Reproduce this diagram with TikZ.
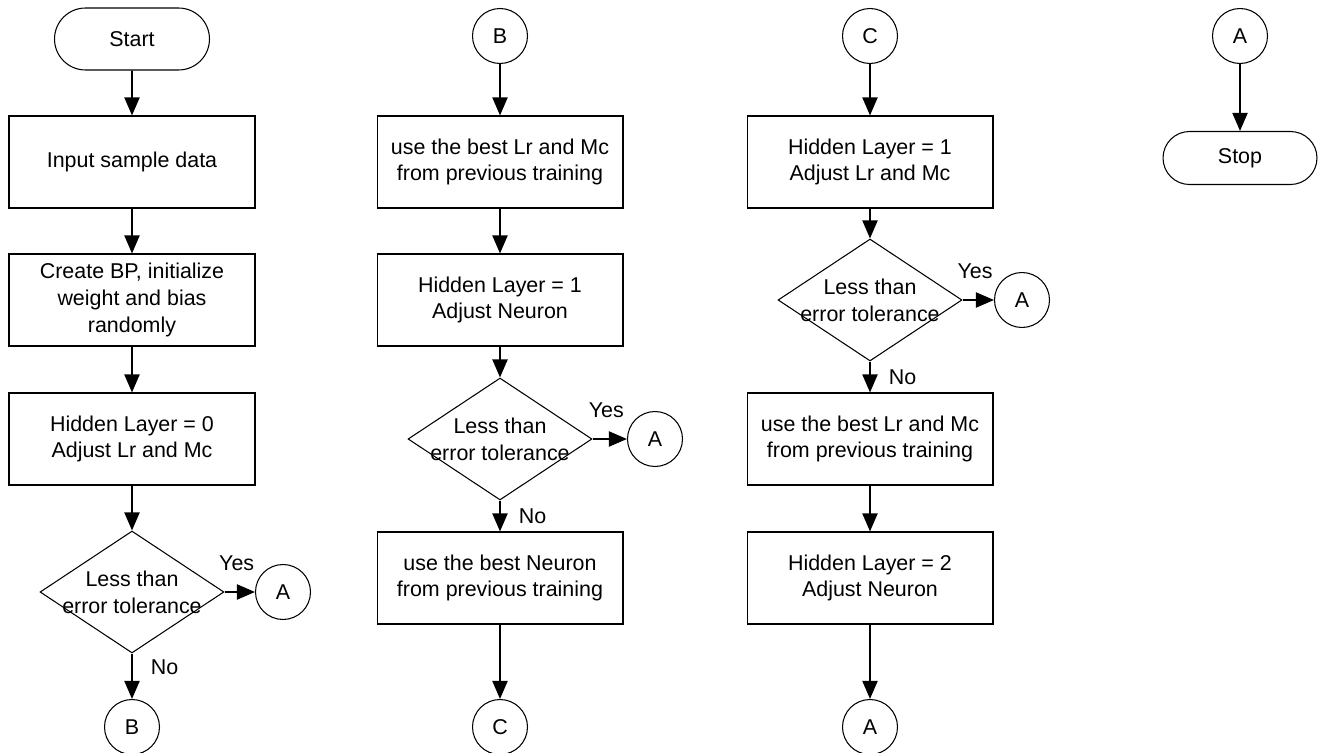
\documentclass[tikz,border=0pt]{standalone}
\usepackage{fontspec}
\setmainfont{Liberation Sans}
\usetikzlibrary{shapes.geometric,shapes.misc,arrows.meta,positioning}
\newcommand\chartfont{\fontsize{12.2}{15.3}\selectfont}
\tikzset{
  terminal/.style={draw,rounded rectangle,minimum width=3.1cm,minimum height=1.24cm,inner sep=0pt,line width=0.6pt},
  process/.style={draw,rectangle,minimum width=4.92cm,minimum height=1.84cm,align=center,inner sep=0pt,line width=0.6pt},
  decision/.style={draw,diamond,minimum width=3.68cm,minimum height=2.44cm,inner sep=0pt,line width=0.6pt,
    label={[align=center]center:Less than\\error tolerance}},
  offpage/.style={draw,circle,minimum size=1.1cm,inner sep=0pt,line width=0.6pt},
  flow/.style={-{Triangle[width=0.3cm,length=0.36cm]},line width=1.1pt},
  yeslabel/.style={pos=0.4,above=0.4cm,inner sep=0pt},
  nolabel/.style={right=0.36cm,inner sep=0pt}
}

\begin{document}
\begin{tikzpicture}[x=0.02cm,y=-0.02cm,every node/.style={font=\chartfont}]
\useasboundingbox (0,0) rectangle (1321,753);

\node[terminal] (start) at (132,39) {Start};
\node[process] (input) at (132,162) {Input sample data};
\node[process] (create) at (132,300) {Create BP, initialize\\weight and bias\\randomly};
\node[process] (hlzero) at (132,439) {Hidden Layer = 0\\Adjust Lr and Mc};
\node[decision] (decone) at (132,592) {};
\node[offpage] (aone) at (283,592) {A};
\node[offpage] (bone) at (132,727) {B};

\node[offpage] (btwo) at (500,36) {B};
\node[process] (bestlrone) at (500,162) {use the best Lr and Mc\\from previous training};
\node[process] (hlonen) at (500,300) {Hidden Layer = 1\\Adjust Neuron};
\node[decision] (dectwo) at (500,439) {};
\node[offpage] (atwo) at (655,439) {A};
\node[process] (bestn) at (500,578) {use the best Neuron\\from previous training};
\node[offpage] (cone) at (500,727) {C};

\node[offpage] (ctwo) at (870,36) {C};
\node[process] (hlonelr) at (870,162) {Hidden Layer = 1\\Adjust Lr and Mc};
\node[decision] (decthree) at (870,300) {};
\node[offpage] (athree) at (1022,300) {A};
\node[process] (bestlrtwo) at (870,439) {use the best Lr and Mc\\from previous training};
\node[process] (hltwon) at (870,578) {Hidden Layer = 2\\Adjust Neuron};
\node[offpage] (afour) at (870,727) {A};

\node[offpage] (afive) at (1240,36) {A};
\node[terminal,minimum width=3.08cm,minimum height=1.06cm] (stop) at (1240,158) {Stop};

\draw[flow] (start) -- (input);
\draw[flow] (input) -- (create);
\draw[flow] (create) -- (hlzero);
\draw[flow] (hlzero) -- (decone);
\draw[flow] (decone) -- node[yeslabel] {Yes} (aone);
\draw[flow] (decone) -- node[nolabel,pos=0.3] {No} (bone);

\draw[flow] (btwo) -- (bestlrone);
\draw[flow] (bestlrone) -- (hlonen);
\draw[flow] (hlonen) -- (dectwo);
\draw[flow] (dectwo) -- node[yeslabel] {Yes} (atwo);
\draw[flow] (dectwo) -- node[nolabel,pos=0.5] {No} (bestn);
\draw[flow] (bestn) -- (cone);

\draw[flow] (ctwo) -- (hlonelr);
\draw[flow] (hlonelr) -- (decthree);
\draw[flow] (decthree) -- node[yeslabel] {Yes} (athree);
\draw[flow] (decthree) -- node[nolabel,pos=0.5] {No} (bestlrtwo);
\draw[flow] (bestlrtwo) -- (hltwon);
\draw[flow] (hltwon) -- (afour);

\draw[flow] (afive) -- (stop);
\end{tikzpicture}
\end{document}
